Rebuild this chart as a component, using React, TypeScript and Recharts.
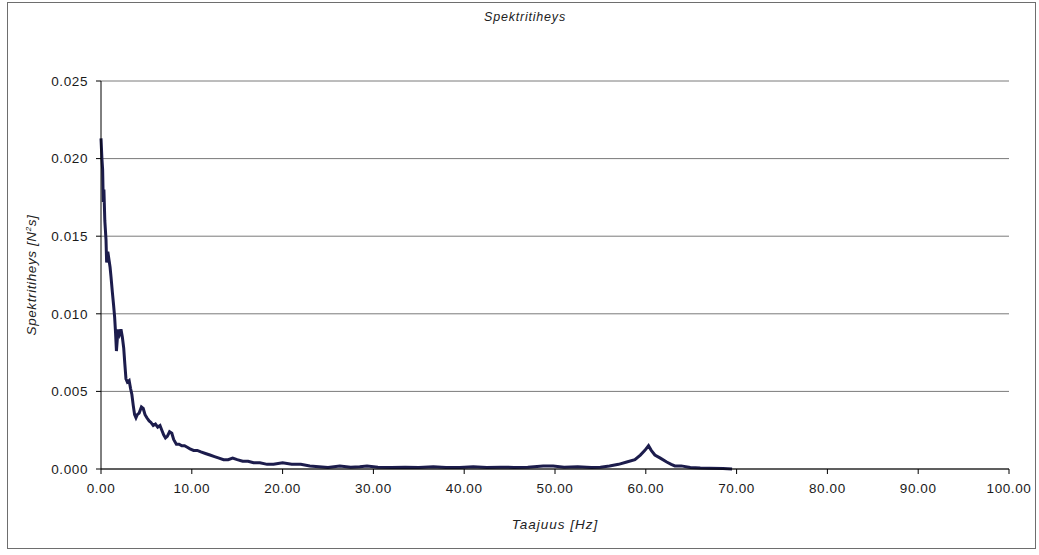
import { LineChart, Line, XAxis, YAxis, CartesianGrid } from 'recharts';

// Taajuus [Hz]
const FREQ = [
  0, 0.1, 0.18, 0.25, 0.32, 0.42, 0.55, 0.62, 0.75, 0.9, 1.0, 1.1, 1.25, 1.38, 1.5, 1.6, 1.7, 1.8, 1.9,
  2.05, 2.2, 2.35, 2.5, 2.62, 2.75, 2.9, 3.1, 3.25, 3.4, 3.55, 3.7, 3.85, 4.0, 4.2, 4.45, 4.65, 4.85,
  5.05, 5.3, 5.5, 5.75, 6.0, 6.25, 6.5, 6.7, 6.9, 7.1, 7.3, 7.55, 7.8, 8.0, 8.3, 8.6, 8.9, 9.2, 9.5, 9.8,
  10.2, 10.6, 11.0, 11.5, 12.0, 12.5, 13.0, 13.5, 14.0, 14.5, 15.0, 15.6, 16.2, 16.8, 17.5, 18.3, 19.0,
  20.0, 21.0, 22.0, 23.0, 24.0, 25.0, 26.3, 27.5, 28.5, 29.3, 30.5, 32, 33.5, 35, 36.6, 38, 39.5, 41,
  42.5, 44, 45.5, 47, 48.7, 49.8, 51, 52.5, 54, 55, 56, 57, 57.9, 58.8, 59.4, 59.9, 60.3, 60.6, 61.0,
  61.6, 62.3, 62.8, 63.2, 63.9, 64.9, 66, 67, 68.5, 69.5,
];

// Spektritiheys [N^2 s]
const DENSITY = [
  0.0213, 0.02, 0.0193, 0.0172, 0.018, 0.016, 0.0148, 0.0133, 0.014, 0.0134, 0.013, 0.0124, 0.0114,
  0.0106, 0.0098, 0.0088, 0.0076, 0.0084, 0.009, 0.0087, 0.009, 0.0085, 0.0078, 0.0068, 0.0058, 0.0056,
  0.0057, 0.0052, 0.0048, 0.0041, 0.0035, 0.0033, 0.0035, 0.0036, 0.004, 0.0039, 0.0035, 0.0033, 0.0031,
  0.003, 0.0028, 0.0029, 0.0027, 0.0028, 0.0025, 0.0022, 0.002, 0.0021, 0.0024, 0.0023, 0.0019, 0.0016,
  0.0016, 0.0015, 0.0015, 0.0014, 0.0013, 0.0012, 0.0012, 0.0011, 0.001, 0.0009, 0.0008, 0.0007, 0.0006,
  0.0006, 0.0007, 0.0006, 0.0005, 0.0005, 0.0004, 0.0004, 0.0003, 0.0003, 0.0004, 0.0003, 0.0003, 0.0002,
  0.00015, 0.0001, 0.0002, 0.00012, 0.00014, 0.0002, 0.00012, 0.0001, 0.00012, 0.0001, 0.00015, 0.0001,
  0.0001, 0.00015, 0.0001, 0.00012, 0.0001, 0.00012, 0.0002, 0.0002, 0.00012, 0.00015, 0.0001, 0.00012,
  0.0002, 0.0003, 0.00045, 0.0006, 0.0009, 0.0012, 0.0015, 0.0012, 0.0009, 0.0007, 0.00045, 0.0003,
  0.0002, 0.0002, 0.0001, 0.00006, 0.00005, 0.00004, 0.0,
];

const X_TICKS = [0, 10, 20, 30, 40, 50, 60, 70, 80, 90, 100];
const Y_TICKS = [0, 0.005, 0.01, 0.015, 0.02, 0.025];

const FONT = '"Liberation Sans", Arial, sans-serif';
const TICK_STYLE = { fontSize: 13.5, fill: '#1a1a1a', fontFamily: FONT, letterSpacing: 0.6 };

export default function App() {
  const data = FREQ.map((f, i) => ({ freq: f, value: DENSITY[i] }));

  return (
    <div style={{ position: 'absolute', left: 0, top: 0, width: 1039, height: 555, background: '#fff', fontFamily: FONT }}>
      <div
        style={{
          position: 'absolute',
          left: 7,
          top: 2,
          width: 1029,
          height: 547,
          border: '1.5px solid #6e6e6e',
          boxSizing: 'border-box',
        }}
      />
      <div
        style={{
          position: 'absolute',
          left: 0,
          width: 1050,
          top: 10,
          textAlign: 'center',
          fontSize: 12.5,
          letterSpacing: 0.8,
          fontStyle: 'italic',
          color: '#222',
        }}
      >
        Spektritiheys
      </div>
      <LineChart
        width={1039}
        height={555}
        data={data}
        margin={{ top: 81, right: 30, bottom: 0, left: 0 }}
        style={{ position: 'absolute', left: 0, top: 0 }}
      >
        <CartesianGrid vertical={false} stroke="#7a7a7a" strokeWidth={1} />
        <XAxis
          dataKey="freq"
          type="number"
          domain={[0, 100]}
          ticks={X_TICKS}
          tickFormatter={(v: number) => v.toFixed(2)}
          height={86}
          tickSize={5}
          tickMargin={9}
          stroke="#000"
          tick={TICK_STYLE}
          label={{
            value: 'Taajuus [Hz]',
            position: 'insideBottom',
            offset: 26,
            style: { fontSize: 13.5, fontStyle: 'italic', fill: '#222', fontFamily: FONT, letterSpacing: 1 },
          }}
        />
        <YAxis
          type="number"
          domain={[0, 0.025]}
          ticks={Y_TICKS}
          tickFormatter={(v: number) => v.toFixed(3)}
          width={101}
          tickSize={5}
          tickMargin={8}
          stroke="#000"
          tick={TICK_STYLE}
          label={{
            content: (props: any) => {
              const vb = props.viewBox;
              const cx = 36;
              const cy = vb.y + vb.height / 2;
              return (
                <text
                  x={cx}
                  y={cy}
                  transform={`rotate(-90 ${cx} ${cy})`}
                  textAnchor="middle"
                  fontSize={13.5}
                  fontStyle="italic"
                  fill="#222"
                  fontFamily={FONT}
                  letterSpacing={0.6}
                >
                  Spektritiheys [N
                  <tspan dy={-5} fontSize={8}>2</tspan>
                  <tspan dy={5}>s]</tspan>
                </text>
              );
            },
          }}
        />
        <Line
          type="linear"
          dataKey="value"
          stroke="#1c1c4c"
          strokeWidth={3}
          dot={false}
          isAnimationActive={false}
        />
      </LineChart>
    </div>
  );
}
